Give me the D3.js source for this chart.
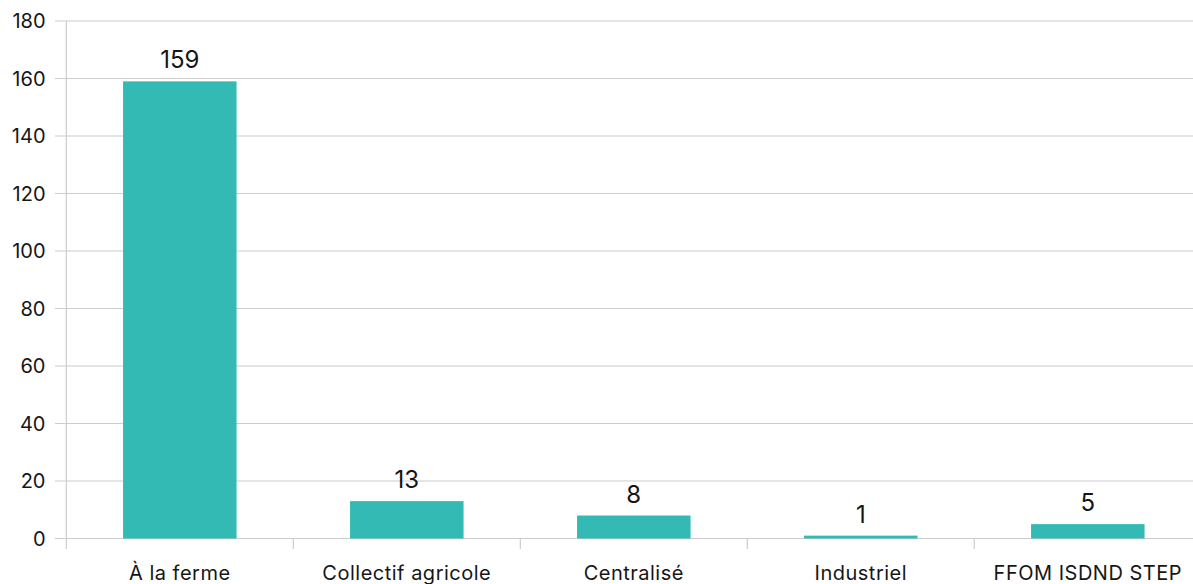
<!DOCTYPE html>
<html><head><meta charset="utf-8">
<script src="https://cdn.jsdelivr.net/npm/d3@7"></script>
<style>body{margin:0;background:#fff}svg{display:block}text{font-family:Inter,"Open Sans",sans-serif;fill:#161616}</style>
</head><body><svg id="c" width="1193" height="584"></svg>
<script>
const categories = ["À la ferme","Collectif agricole","Centralisé","Industriel","FFOM ISDND STEP"];
const values = [159,13,8,1,5];
const yTicks = [0,20,40,60,80,100,120,140,160,180];

const svg = d3.select("#c");
const x0 = 66.3, step = 227;
const x = d3.scaleBand().domain(categories).range([x0, x0 + step*categories.length]).paddingInner(0.5).paddingOuter(0.25);
const y = d3.scaleLinear().domain([0,180]).range([538.5, 21]);

svg.append("g").selectAll("line").data(yTicks).join("line")
  .attr("x1",55).attr("x2",1193).attr("y1",d=>y(d)).attr("y2",d=>y(d))
  .attr("stroke","#cccccc").attr("stroke-width",1.2);
svg.append("line").attr("x1",x0).attr("x2",x0).attr("y1",21).attr("y2",549).attr("stroke","#cccccc").attr("stroke-width",1.2);
const divs = d3.range(1,categories.length).map(i=>x0+i*step);
svg.append("g").selectAll("line").data(divs).join("line")
  .attr("x1",d=>d).attr("x2",d=>d).attr("y1",538.5).attr("y2",549)
  .attr("stroke","#cccccc").attr("stroke-width",1.2);
svg.append("g").selectAll("text").data(yTicks).join("text")
  .attr("x",45.5).attr("y",d=>y(d)).attr("dy","0.36em").attr("text-anchor","end")
  .attr("font-size",20).text(d=>d);
svg.append("g").selectAll("rect").data(values).join("rect")
  .attr("x",(d,i)=>x(categories[i])).attr("width",x.bandwidth())
  .attr("y",d=>y(d)).attr("height",d=>y(0)-y(d)).attr("fill","#34BAB5");
svg.append("g").selectAll("text").data(values).join("text")
  .attr("x",(d,i)=>x(categories[i])+x.bandwidth()/2).attr("y",d=>y(d)-13)
  .attr("text-anchor","middle").attr("font-size",24).text(d=>d);
svg.append("g").selectAll("text").data(categories).join("text")
  .attr("x",d=>x(d)+x.bandwidth()/2).attr("y",580)
  .attr("text-anchor","middle").attr("font-size",20).attr("letter-spacing","0.5px").text(d=>d);
</script></body></html>
